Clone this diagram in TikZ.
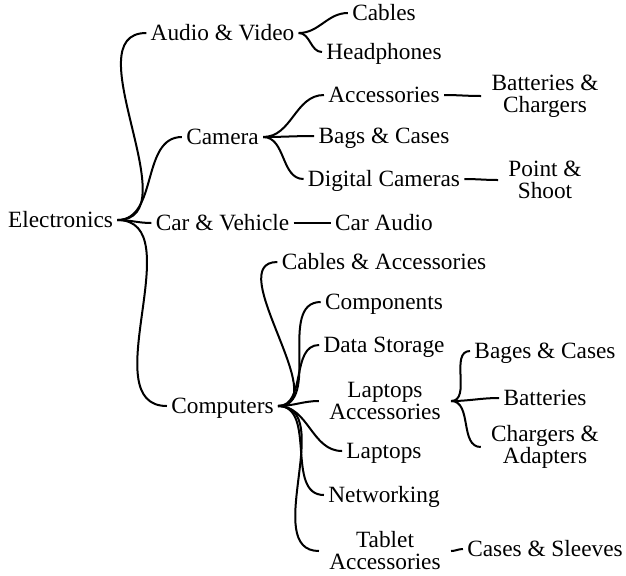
\documentclass[tikz,border=0pt]{standalone}
\usepackage{fontspec}
\setmainfont{Liberation Serif}

\begin{document}
\begin{tikzpicture}[x=0.5pt, y=-0.5pt,
  every node/.style={font=\fontsize{11.65}{11}\selectfont, inner sep=0pt, inner xsep=2pt},
  leaf/.style={text height=7.9pt, text depth=0pt},
  twoline/.style={align=center, inner xsep=5pt},
  branch/.style={line width=1pt}]
  \useasboundingbox (0,0) rectangle (626,575);

  \node[leaf] (elec) at (60.5, 220) {Electronics};

  \node[leaf] (av) at (222.5, 33) {Audio \& Video};
  \node[leaf] (cam) at (222.5, 137) {Camera};
  \node[leaf] (car) at (222.5, 223) {Car \& Vehicle};
  \node[leaf] (comp) at (222.5, 406) {Computers};

  \node[leaf] (cables) at (384, 13) {Cables};
  \node[leaf] (headph) at (384, 52) {Headphones};
  \node[leaf] (camacc) at (384, 95) {Accessories};
  \node[leaf] (bags) at (384, 136) {Bags \& Cases};
  \node[leaf] (digcam) at (384, 179) {Digital Cameras};
  \node[leaf] (caraudio) at (384, 223) {Car Audio};
  \node[leaf] (cabacc) at (384, 262) {Cables \& Accessories};
  \node[leaf] (compon) at (384, 302) {Components};
  \node[leaf] (storage) at (384, 345) {Data Storage};
  \node[twoline] (lapacc) at (385, 401) {Laptops\\Accessories};
  \node[leaf] (laptops) at (384, 451) {Laptops};
  \node[leaf] (network) at (384, 495) {Networking};
  \node[twoline] (tabacc) at (385, 551) {Tablet\\Accessories};

  \node[twoline] (batch) at (545, 96) {Batteries \&\\Chargers};
  \node[twoline] (pns) at (545, 180) {Point \&\\Shoot};
  \node[leaf] (bages) at (545, 351) {Bages \& Cases};
  \node[leaf] (batt) at (545, 398) {Batteries};
  \node[twoline] (chad) at (545, 447) {Chargers \&\\Adapters};
  \node[leaf] (sleeves) at (545, 549) {Cases \& Sleeves};

  \draw[branch] (elec.east) to[out=0, in=180] (av.west);
  \draw[branch] (elec.east) to[out=0, in=180] (cam.west);
  \draw[branch] (elec.east) to[out=0, in=180] (car.west);
  \draw[branch] (elec.east) to[out=0, in=180] (comp.west);

  \draw[branch] (av.east) to[out=0, in=180] (cables.west);
  \draw[branch] (av.east) to[out=0, in=180] (headph.west);

  \draw[branch] (cam.east) to[out=0, in=180] (camacc.west);
  \draw[branch] (cam.east) to[out=0, in=180] (bags.west);
  \draw[branch] (cam.east) to[out=0, in=180] (digcam.west);
  \draw[branch] (camacc.east) to[out=0, in=180] (batch.west);
  \draw[branch] (digcam.east) to[out=0, in=180] (pns.west);

  \draw[branch] (car.east) to[out=0, in=180] (caraudio.west);

  \draw[branch] (comp.east) to[out=0, in=180] (cabacc.west);
  \draw[branch] (comp.east) to[out=0, in=180] (compon.west);
  \draw[branch] (comp.east) to[out=0, in=180] (storage.west);
  \draw[branch] (comp.east) to[out=0, in=180] (lapacc.west);
  \draw[branch] (comp.east) to[out=0, in=180] (laptops.west);
  \draw[branch] (comp.east) to[out=0, in=180] (network.west);
  \draw[branch] (comp.east) to[out=0, in=180] (tabacc.west);

  \draw[branch] (lapacc.east) to[out=0, in=180] (bages.west);
  \draw[branch] (lapacc.east) to[out=0, in=180] (batt.west);
  \draw[branch] (lapacc.east) to[out=0, in=180] (chad.west);
  \draw[branch] (tabacc.east) to[out=0, in=180] (sleeves.west);
\end{tikzpicture}
\end{document}
